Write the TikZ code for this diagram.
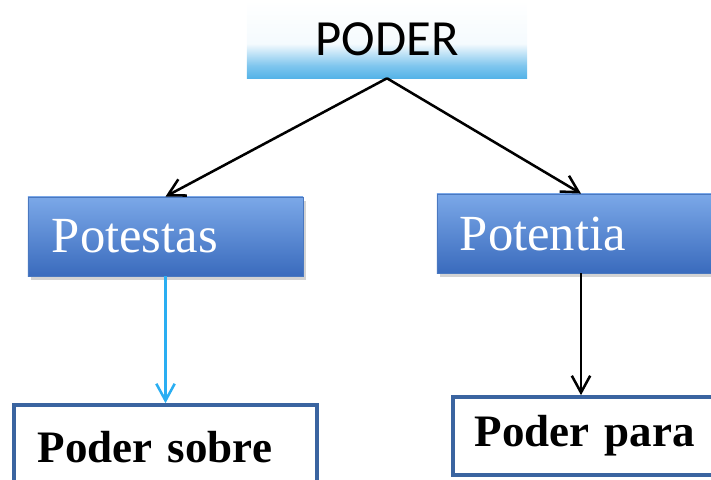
\documentclass[tikz,border=0pt]{standalone}
\usepackage{fontspec}
\setmainfont{Liberation Serif}
\newfontfamily\podersans{Carlito}
\usetikzlibrary{arrows.meta,shadows}
\definecolor{skyblue}{HTML}{55B3E8}
\definecolor{boxtop}{HTML}{7BA8E8}
\definecolor{boxbottom}{HTML}{3A6BBD}
\definecolor{boxedge}{HTML}{4A78C0}
\definecolor{frameblue}{HTML}{3A64A0}
\definecolor{linkblue}{HTML}{2AAEF2}
\pgfdeclareverticalshading{podershade}{100bp}{color(0bp)=(skyblue); color(25bp)=(skyblue); color(33bp)=(skyblue!75!white); color(47bp)=(white!94!skyblue); color(75bp)=(white); color(100bp)=(white)}

\begin{document}
\begin{tikzpicture}[x=0.025cm,y=-0.025cm]
	\tikzstyle{title}=[rectangle,inner sep=0pt,minimum width=7cm,minimum height=1.95cm,shading=podershade,font=\podersans\fontsize{36}{40}\selectfont]
	\tikzstyle{blue box}=[rectangle,draw=boxedge,line width=0.6pt,top color=boxtop,bottom color=boxbottom,text=white,align=left,inner ysep=0pt,minimum height=1.975cm,font=\fontsize{36}{40}\selectfont,drop shadow={shadow xshift=2pt,shadow yshift=-2.5pt,opacity=0.35}]
	\tikzstyle{white box}=[rectangle,draw=frameblue,line width=2.6pt,fill=white,align=left,inner ysep=0pt,font=\bfseries\fontsize{32}{36}\selectfont]
	\tikzstyle{link}=[line width=1.8pt,-{Straight Barb[length=0.42cm,width=0.46cm]}]
	\useasboundingbox (0,0) rectangle (711,480);
	\node (poder)     at (387,39)      [title] {PODER};
	\node (potestas)  at (165.5,236.5) [blue box,minimum width=6.875cm,text width=5.675cm] {Potestas};
	\node (potentia)  at (581,233.5)   [blue box,minimum width=7.2cm,text width=6.05cm] {Potentia};
	\node (sobre)     at (165.5,447.5) [white box,minimum width=7.575cm,minimum height=2.125cm,text width=6.375cm] {Poder sobre};
	\node (para)      at (589,436)     [white box,minimum width=6.8cm,minimum height=1.95cm,text width=5.7cm] {Poder para};
	\draw [link] (poder.south) -- (potestas.north);
	\draw [link] (poder.south) -- (potentia.north);
	\draw [link,linkblue] (potestas.south) -- (sobre.north);
	\draw [link] (potentia.south) -- (potentia.south |- para.north);
\end{tikzpicture}
\end{document}
